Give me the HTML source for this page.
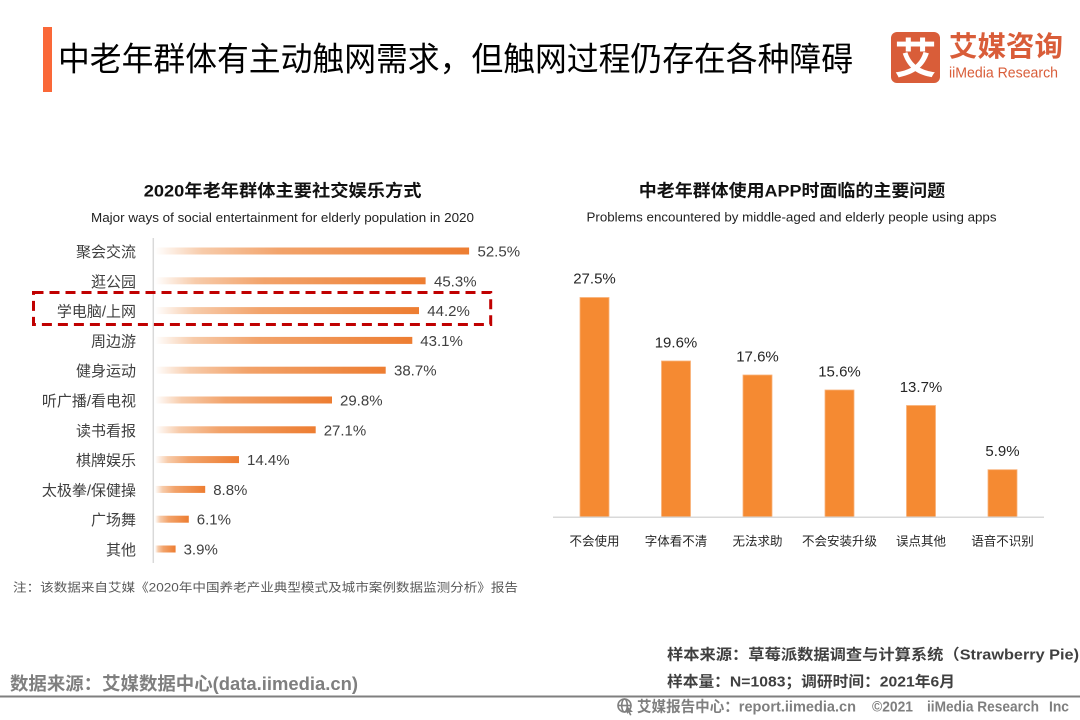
<!DOCTYPE html>
<html><head><meta charset="utf-8"><style>
html,body{margin:0;padding:0;background:#fff;}
svg{display:block;}
text{font-family:"Liberation Sans","Noto Sans CJK SC",sans-serif;}
</style></head><body>
<svg width="1080" height="720" viewBox="0 0 1080 720" xmlns="http://www.w3.org/2000/svg">
<defs>
<linearGradient id="g" x1="0" y1="0" x2="1" y2="0">
<stop offset="0" stop-color="#ffffff"/>
<stop offset="0.15" stop-color="#F7CBAA"/>
<stop offset="0.4" stop-color="#F2A36B"/>
<stop offset="1" stop-color="#ED7D31"/>
</linearGradient>
</defs>
<rect width="1080" height="720" fill="#fff"/>
<!-- header -->
<rect x="43" y="27" width="9" height="65" fill="#FA6838"/>
<text x="58" y="70.5" font-size="33" fill="#000" textLength="795" lengthAdjust="spacingAndGlyphs">中老年群体有主动触网需求，但触网过程仍存在各种障碍</text>
<rect x="891" y="32" width="49" height="51" rx="6" fill="#D95D39"/>
<text x="915.5" y="73.5" font-size="42" font-weight="bold" fill="#fff" text-anchor="middle">艾</text>
<text x="949" y="56" font-size="28" font-weight="bold" fill="#D95D39" textLength="114" lengthAdjust="spacingAndGlyphs">艾媒咨询</text>
<text x="949" y="77.5" font-size="15" fill="#D95D39" textLength="109" lengthAdjust="spacingAndGlyphs">iiMedia Research</text>

<!-- left chart -->
<text x="282.6" y="196.5" font-size="17" font-weight="bold" fill="#111" text-anchor="middle" textLength="277.7" lengthAdjust="spacingAndGlyphs">2020年老年群体主要社交娱乐方式</text>
<text x="282.5" y="222" font-size="13" fill="#222" text-anchor="middle" textLength="383" lengthAdjust="spacingAndGlyphs">Major ways of social entertainment for elderly population in 2020</text>
<line x1="153.3" y1="238" x2="153.3" y2="563" stroke="#d9d9d9" stroke-width="1.5"/>
<g font-size="15" fill="#404040">
<text x="136" y="257" text-anchor="end">聚会交流</text>
<text x="136" y="286.8" text-anchor="end">逛公园</text>
<text x="136" y="316.6" text-anchor="end">学电脑/上网</text>
<text x="136" y="346.4" text-anchor="end">周边游</text>
<text x="136" y="376.2" text-anchor="end">健身运动</text>
<text x="136" y="406" text-anchor="end">听广播/看电视</text>
<text x="136" y="435.8" text-anchor="end">读书看报</text>
<text x="136" y="465.6" text-anchor="end">棋牌娱乐</text>
<text x="136" y="495.4" text-anchor="end">太极拳/保健操</text>
<text x="136" y="525.2" text-anchor="end">广场舞</text>
<text x="136" y="555" text-anchor="end">其他</text>
</g>
<g fill="url(#g)">
<rect x="155" y="247.5" width="314.1" height="7"/>
<rect x="155" y="277.3" width="270.6" height="7"/>
<rect x="155" y="307.1" width="264" height="7"/>
<rect x="155" y="336.9" width="257.3" height="7"/>
<rect x="155" y="366.7" width="230.7" height="7"/>
<rect x="155" y="396.5" width="177" height="7"/>
<rect x="155" y="426.3" width="160.7" height="7"/>
<rect x="155" y="456.1" width="84" height="7"/>
<rect x="155" y="485.9" width="50.2" height="7"/>
<rect x="155" y="515.7" width="33.8" height="7"/>
<rect x="155" y="545.5" width="20.6" height="7"/>
</g>
<g font-size="15" fill="#404040">
<text x="477.5" y="256.5">52.5%</text>
<text x="434" y="286.3">45.3%</text>
<text x="427.3" y="316.1">44.2%</text>
<text x="420.3" y="345.9">43.1%</text>
<text x="394" y="375.7">38.7%</text>
<text x="340" y="405.5">29.8%</text>
<text x="323.7" y="435.3">27.1%</text>
<text x="247" y="465.1">14.4%</text>
<text x="213.2" y="494.9">8.8%</text>
<text x="196.8" y="524.7">6.1%</text>
<text x="183.6" y="554.5">3.9%</text>
</g>
<rect x="33.5" y="292.5" width="457.2" height="32" fill="none" stroke="#C00000" stroke-width="3" stroke-dasharray="10 6"/>
<text x="13" y="591.5" font-size="12" fill="#595959" textLength="505" lengthAdjust="spacingAndGlyphs">注：该数据来自艾媒《2020年中国养老产业典型模式及城市案例数据监测分析》报告</text>

<!-- right chart -->
<text x="792" y="196.5" font-size="17" font-weight="bold" fill="#111" text-anchor="middle" textLength="306.5" lengthAdjust="spacingAndGlyphs">中老年群体使用APP时面临的主要问题</text>
<text x="791.5" y="221.5" font-size="13" fill="#222" text-anchor="middle" textLength="410" lengthAdjust="spacingAndGlyphs">Problems encountered by middle-aged and elderly people using apps</text>
<g fill="#F58A32" stroke="#F9B27A" stroke-width="0.8">
<rect x="580" y="297.5" width="29" height="219.8"/>
<rect x="661.5" y="361" width="29" height="156.3"/>
<rect x="743" y="375" width="29" height="142.3"/>
<rect x="825" y="390" width="29" height="127.3"/>
<rect x="906.5" y="405.5" width="29" height="111.8"/>
<rect x="988" y="469.7" width="29" height="47.6"/>
</g>
<line x1="553" y1="517.3" x2="1044" y2="517.3" stroke="#d9d9d9" stroke-width="1.5"/>
<g font-size="15" fill="#262626" text-anchor="middle">
<text x="594.5" y="283.5">27.5%</text>
<text x="676" y="347.3">19.6%</text>
<text x="757.5" y="361.4">17.6%</text>
<text x="839.5" y="376.4">15.6%</text>
<text x="921" y="391.9">13.7%</text>
<text x="1002.5" y="456">5.9%</text>
</g>
<g font-size="12.5" fill="#262626" text-anchor="middle">
<text x="594.5" y="545.3">不会使用</text>
<text x="676" y="545.3">字体看不清</text>
<text x="757.5" y="545.3">无法求助</text>
<text x="839.5" y="545.3">不会安装升级</text>
<text x="921" y="545.3">误点其他</text>
<text x="1002.5" y="545.3">语音不识别</text>
</g>

<!-- footer -->
<text x="667" y="659.7" font-size="15" font-weight="bold" fill="#404040" textLength="412" lengthAdjust="spacingAndGlyphs">样本来源：草莓派数据调查与计算系统（Strawberry Pie)</text>
<text x="667" y="686.4" font-size="15" font-weight="bold" fill="#404040" textLength="288" lengthAdjust="spacingAndGlyphs">样本量：N=1083；调研时间：2021年6月</text>
<text x="10" y="690" font-size="18" font-weight="bold" fill="#7F7F7F" textLength="348" lengthAdjust="spacingAndGlyphs">数据来源：艾媒数据中心(data.iimedia.cn)</text>
<line x1="0" y1="696.5" x2="1080" y2="696.5" stroke="#7f7f7f" stroke-width="2"/>
<g stroke="#7f7f7f" stroke-width="1.6" fill="none">
<circle cx="624.5" cy="705.5" r="6.5"/>
<ellipse cx="624.5" cy="705.5" rx="2.8" ry="6.5"/>
<line x1="618" y1="705.5" x2="631" y2="705.5"/>
</g>
<path d="M627 706 L633 712 L630 712 L631.5 715 L630 715.5 L628.5 712.5 L627 714 Z" fill="#7f7f7f"/>
<g font-size="15" font-weight="bold" fill="#7F7F7F">
<text x="637" y="711.7" textLength="219" lengthAdjust="spacingAndGlyphs">艾媒报告中心：report.iimedia.cn</text>
<text x="872" y="711.7" textLength="41" lengthAdjust="spacingAndGlyphs">©2021</text>
<text x="927" y="711.7" textLength="112" lengthAdjust="spacingAndGlyphs">iiMedia Research</text>
<text x="1049" y="711.7" textLength="20" lengthAdjust="spacingAndGlyphs">Inc</text>
</g>
</svg>
</body></html>
